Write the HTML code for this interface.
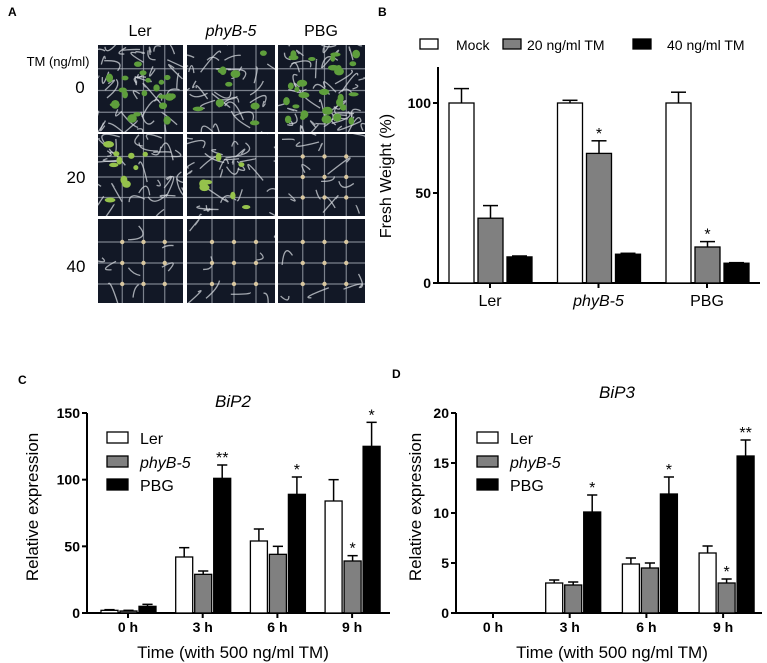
<!DOCTYPE html>
<html><head><meta charset="utf-8"><style>
html,body{margin:0;padding:0;background:#fff}
svg{display:block;font-family:"Liberation Sans",Arial,sans-serif}
</style></head><body>
<svg id="fig" width="767" height="663" viewBox="0 0 767 663" xmlns="http://www.w3.org/2000/svg">
<g font-weight="bold" font-size="12">
<text x="8" y="16">A</text>
<text x="378" y="16">B</text>
<text x="18" y="384">C</text>
<text x="392" y="378">D</text>
</g>
<g id="panelA">
<text x="140" y="36" font-size="16" text-anchor="middle">Ler</text>
<text x="231" y="36" font-size="16" text-anchor="middle" font-style="italic">phyB-5</text>
<text x="321" y="36" font-size="16" text-anchor="middle">PBG</text>
<text x="58" y="66" font-size="13" text-anchor="middle">TM (ng/ml)</text>
<text x="80" y="93" font-size="17" text-anchor="middle">0</text>
<text x="76" y="183" font-size="17" text-anchor="middle">20</text>
<text x="76" y="272" font-size="17" text-anchor="middle">40</text>
</g>
<g id="panelB"></g>
<g id="panelC"></g>
<g id="panelD"></g>
</svg>
<script>
// Panel B data
const bGroups = ['Ler', 'phyB-5', 'PBG'];
const bSeries = ['Mock', '20 ng/ml TM', '40 ng/ml TM'];
const bMock = [100, 100, 100];
const bMockErr = [108, 101.5, 106];
const b20 = [36, 72, 20];
const b20Err = [43, 79, 23];
const b40 = [14.5, 16, 11];
const b40Err = [15, 16.5, 11.3];
const bTicks = [0, 50, 100];
const b20Stars = ['', '*', '*'];
// Panel C data (BiP2)
const times = ['0 h', '3 h', '6 h', '9 h'];
const cLer = [2, 42, 54, 84];
const cLerErr = [2.5, 49, 63, 100];
const cPhy = [1.5, 29, 44, 39];
const cPhyErr = [2, 31.5, 50, 43];
const cPbg = [5, 101, 89, 125];
const cPbgErr = [6.5, 111, 102, 143];
const cTicks = [0, 50, 100, 150];
const cStarsPhy = ['', '', '', '*'];
const cStarsPbg = ['', '**', '*', '*'];
// Panel D data (BiP3)
const dLer = [0, 3, 4.9, 6];
const dLerErr = [0, 3.3, 5.5, 6.7];
const dPhy = [0, 2.8, 4.5, 3];
const dPhyErr = [0, 3.1, 5, 3.4];
const dPbg = [0, 10.1, 11.9, 15.7];
const dPbgErr = [0, 11.8, 13.6, 17.3];
const dTicks = [0, 5, 10, 15, 20];
const dStarsPhy = ['', '', '', '*'];
const dStarsPbg = ['', '*', '*', '**'];

const NS = 'http://www.w3.org/2000/svg';
function mk(parent, tag, attrs, text) {
  const e = document.createElementNS(NS, tag);
  for (const k in attrs) e.setAttribute(k, attrs[k]);
  if (text !== undefined) e.textContent = text;
  parent.appendChild(e);
  return e;
}
const fills = ['#ffffff', '#808080', '#000000'];

// ---------- Panel A photos ----------
const A = document.getElementById('panelA');
const cols = [[98, 85], [187, 88], [278, 87]];
const rows = [[45, 87], [134, 82], [219, 84]];
const greenCounts = [[20, 9, 28], [10, 8, 0], [0, 0, 0]];
const rootCounts = [[40, 30, 45], [30, 30, 14], [8, 8, 5]];
let seed = 7;
function rnd() { seed = (seed * 9301 + 49297) % 233280; return seed / 233280; }
for (let r = 0; r < 3; r++) for (let c = 0; c < 3; c++) {
  const [x, w] = cols[c], [y, h] = rows[r];
  const g = mk(A, 'g', {});
  
  
  mk(g, 'rect', { x: x, y: y, width: w, height: h, fill: '#121826' });
  const cp = mk(g, 'clipPath', { id: 'cp' + r + c });
  mk(cp, 'rect', { x: x, y: y, width: w, height: h });
  const gg = mk(g, 'g', { 'clip-path': 'url(#cp' + r + c + ')' });
  for (let i = 1; i < 4; i++) {
    mk(gg, 'line', { x1: x + w * i / 4 + 3, y1: y, x2: x + w * i / 4 + 3, y2: y + h, stroke: '#a8aeb8', 'stroke-width': 1.2, opacity: 0.7 });
    mk(gg, 'line', { x1: x, y1: y + h * i / 4 + 2, x2: x + w, y2: y + h * i / 4 + 2, stroke: '#a8aeb8', 'stroke-width': 1.2, opacity: 0.7 });
  }
  for (let i = 0; i < rootCounts[r][c]; i++) {
    const x1 = x + rnd() * w, y1 = y + rnd() * h;
    mk(gg, 'path', { d: 'M' + x1 + ' ' + y1 + ' q' + (rnd() * 30 - 15) + ' ' + (rnd() * 30 - 15) + ' ' + (rnd() * 40 - 20) + ' ' + (rnd() * 30 - 10), stroke: '#d4d8de', 'stroke-width': 1.3, fill: 'none', opacity: 0.75 });
  }
  for (let i = 0; i < greenCounts[r][c]; i++) {
    mk(gg, 'ellipse', { cx: x + 8 + rnd() * (w - 16), cy: y + 8 + rnd() * (h - 16), rx: 2.5 + rnd() * 3, ry: 2 + rnd() * 2.5, fill: r === 0 ? '#5e9e3c' : '#95c24c' });
  }
  if (r === 2 || (r === 1 && c === 2)) {
    for (let i = 0; i < 3; i++) for (let j = 0; j < 3; j++)
      mk(gg, 'circle', { cx: x + w * (i + 1) / 4 + 3, cy: y + h * (j + 1) / 4 + 2, r: 2.2, fill: '#d8c7a0' });
  }
}

// ---------- generic bar chart ----------
function chart(root, o) {
  const yS = v => o.y0 - (v - o.min) / (o.max - o.min) * (o.y0 - o.yTop);
  mk(root, 'line', { x1: o.x0, y1: o.yAxisTop, x2: o.x0, y2: o.y0 + 1, stroke: '#000', 'stroke-width': 2 });
  mk(root, 'line', { x1: o.x0 - 1, y1: o.y0, x2: o.xEnd, y2: o.y0, stroke: '#000', 'stroke-width': 2 });
  o.ticks.forEach(t => {
    const y = yS(t);
    mk(root, 'line', { x1: o.x0 - 5, y1: y, x2: o.x0, y2: y, stroke: '#000', 'stroke-width': 2 });
    const tl = mk(root, 'text', { x: o.x0 - 7, y: y + 5, 'text-anchor': 'end', 'font-size': 14, 'font-weight': 'bold' }, String(t));
    
    
  });
  o.groups.forEach((gname, gi) => {
    const c = o.gx0 + gi * o.gstep;
    mk(root, 'line', { x1: c, y1: o.y0, x2: c, y2: o.y0 + 5, stroke: '#000', 'stroke-width': 2 });
    const xl = mk(root, 'text', { x: c, y: o.y0 + o.xlabDy, 'text-anchor': 'middle', 'font-size': o.xlabSize, 'font-weight': o.xlabBold ? 'bold' : 'normal', 'font-style': gname === 'phyB-5' ? 'italic' : 'normal' }, gname);
    
    
    o.series.forEach((s, si) => {
      const v = s.vals[gi], e = s.errs[gi];
      const bx = c + o.offs[si];
      const yt = yS(v);
      if (v > 0) {
        const b = mk(root, 'rect', { x: bx, y: yt, width: o.bw, height: o.y0 - yt, fill: fills[si], stroke: '#000', 'stroke-width': 1.3 });
        
        
        const ye = yS(e), cx = bx + o.bw / 2, hw = o.bw * 0.3;
        if (e > v) {
          mk(root, 'line', { x1: cx, y1: yt, x2: cx, y2: ye, stroke: '#000', 'stroke-width': 1.5 });
          mk(root, 'line', { x1: cx - hw, y1: ye, x2: cx + hw, y2: ye, stroke: '#000', 'stroke-width': 1.5 });
        }
        const st = s.stars ? s.stars[gi] : '';
        if (st) {
          const sl = mk(root, 'text', { x: cx, y: ye - 2, 'text-anchor': 'middle', 'font-size': 16 }, st);
          
          
        }
      }
    });
  });
  return yS;
}

// Panel B
const B = document.getElementById('panelB');
chart(B, { x0: 438, xEnd: 760, y0: 283, yTop: 103, yAxisTop: 67, min: 0, max: 100, ticks: bTicks,
  groups: bGroups, gx0: 490, gstep: 108.5, offs: [-41, -12, 17], bw: 25, xlabDy: 23, xlabSize: 16, xlabBold: false,
  series: [{ key: 'mock', vals: bMock, errs: bMockErr }, { key: '20tm', vals: b20, errs: b20Err, stars: b20Stars }, { key: '40tm', vals: b40, errs: b40Err }] });
const bYt = mk(B, 'text', { x: 0, y: 0, transform: 'translate(391,176) rotate(-90)', 'text-anchor': 'middle', 'font-size': 16 }, 'Fresh Weight (%)');


const bLegX = [420, 503, 633], bLegT = [456, 527, 667];
bSeries.forEach((s, i) => {
  const lg = mk(B, 'g', {});
  
  
  mk(lg, 'rect', { x: bLegX[i], y: 39, width: 18, height: 10, fill: fills[i], stroke: '#000', 'stroke-width': 1.3 });
  mk(lg, 'text', { x: bLegT[i], y: 50, 'font-size': 14 }, s);
});

// Panels C and D
function expr(root, o) {
  chart(root, o);
  const t = mk(root, 'text', { x: o.titleX, y: o.titleY, 'text-anchor': 'middle', 'font-size': 17, 'font-style': 'italic' }, o.title);
  
  
  const yt = mk(root, 'text', { x: 0, y: 0, transform: 'translate(' + o.ylX + ',507) rotate(-90)', 'text-anchor': 'middle', 'font-size': 17 }, 'Relative expression');
  
  
  const xt = mk(root, 'text', { x: o.xtX, y: 658, 'text-anchor': 'middle', 'font-size': 17 }, 'Time (with 500 ng/ml TM)');
  
  
  ['Ler', 'phyB-5', 'PBG'].forEach((s, i) => {
    const lg = mk(root, 'g', {});
    
    
    const yy = [438, 462, 485][i];
    mk(lg, 'rect', { x: o.legX, y: yy - 6, width: 21, height: 11, fill: fills[i], stroke: '#000', 'stroke-width': 1.3 });
    mk(lg, 'text', { x: o.legX + 33, y: yy + 6, 'font-size': 16, 'font-style': i === 1 ? 'italic' : 'normal' }, s);
  });
}
expr(document.getElementById('panelC'), { x0: 87, xEnd: 390, y0: 613, yTop: 413, yAxisTop: 413, min: 0, max: 150, ticks: cTicks,
  groups: times, gx0: 128, gstep: 74.7, offs: [-27, -8, 11], bw: 17, xlabDy: 19, xlabSize: 14, xlabBold: true,
  series: [{ key: 'ler', vals: cLer, errs: cLerErr }, { key: 'phyb5', vals: cPhy, errs: cPhyErr, stars: cStarsPhy }, { key: 'pbg', vals: cPbg, errs: cPbgErr, stars: cStarsPbg }],
  title: 'BiP2', titleX: 233, titleY: 407, ylX: 38, xtX: 233, legX: 107 });
expr(document.getElementById('panelD'), { x0: 456, xEnd: 762, y0: 613, yTop: 413, yAxisTop: 413, min: 0, max: 20, ticks: dTicks,
  groups: times, gx0: 493, gstep: 76.7, offs: [-24, -5, 14], bw: 17, xlabDy: 19, xlabSize: 14, xlabBold: true,
  series: [{ key: 'ler', vals: dLer, errs: dLerErr }, { key: 'phyb5', vals: dPhy, errs: dPhyErr, stars: dStarsPhy }, { key: 'pbg', vals: dPbg, errs: dPbgErr, stars: dStarsPbg }],
  title: 'BiP3', titleX: 617, titleY: 398, ylX: 421, xtX: 612, legX: 477 });
</script>
</body></html>
